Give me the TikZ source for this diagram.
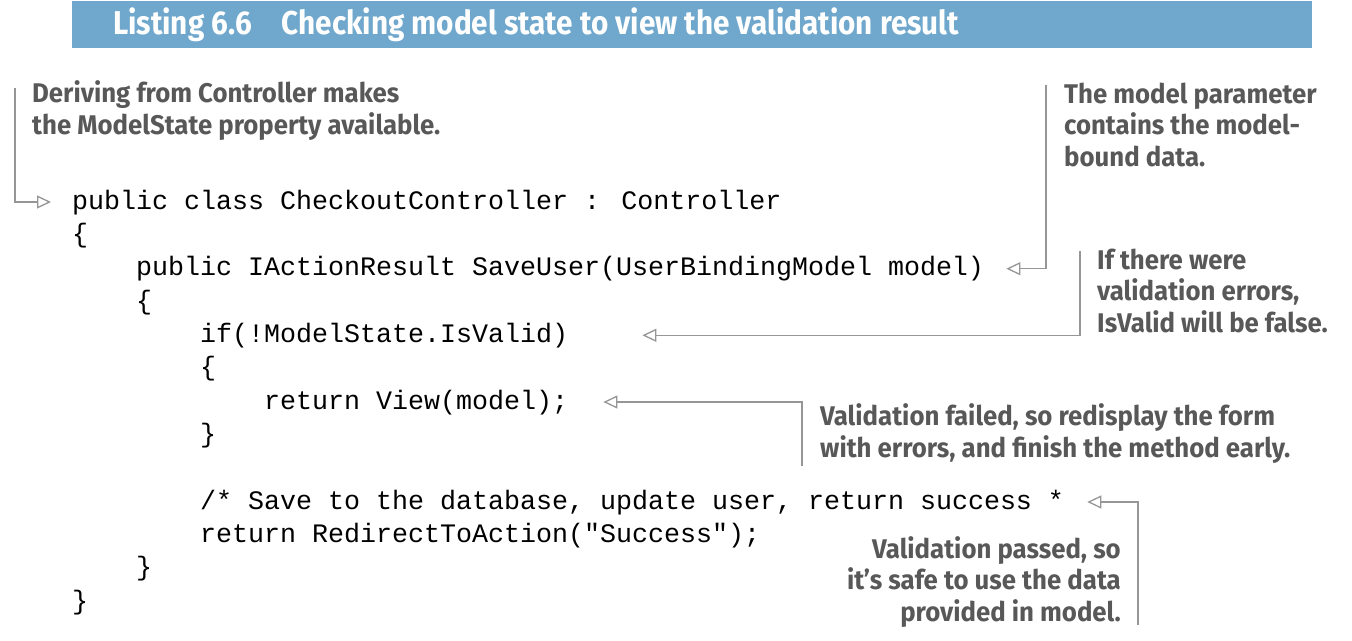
\documentclass[tikz,border=0pt]{standalone}
\usepackage{fontspec}
\usetikzlibrary{arrows.meta}
\newfontfamily\annotfont[FakeStretch=0.955]{Fira Sans}
\newfontfamily\headfont[FakeStretch=0.9]{Fira Sans}
\newfontfamily\codefont[Ligatures=TeXOff]{Liberation Mono}
\definecolor{headblue}{RGB}{111,168,204}
\definecolor{annotgray}{RGB}{88,88,88}
\definecolor{linegray}{RGB}{150,150,150}
\begin{document}
\begin{tikzpicture}[x=1pt,y=-1pt,
  code/.style={anchor=base west,inner sep=0pt,font=\codefont\fontsize{26.66}{33}\selectfont,text height=20pt,text depth=6pt},
  annot/.style={anchor=base west,inner sep=0pt,align=left,font=\annotfont\bfseries\fontsize{27}{31.5}\selectfont,text=annotgray},
  conn/.style={draw=linegray,line width=1.3pt,-{Triangle[open,length=14pt,width=13pt,fill=white]}},
]
\useasboundingbox (0,0) rectangle (1352,640);
\fill[headblue] (72,1) rectangle (1312,47.5);
\node[anchor=base west,inner sep=0pt,text=white,font=\headfont\bfseries\fontsize{33}{35}\selectfont] (head) at (113,34) {Listing 6.6\hspace{30pt}Checking model state to view the validation result};

% code
\node[code] (c1) at (72,209) {public class CheckoutController : Controller};
\node[code] (c2) at (72,242.3) {\{};
\node[code] (c3) at (136,275.7) {public IActionResult SaveUser(UserBindingModel model)};
\node[code] (c4) at (136,309) {\{};
\node[code] (c5) at (200,342.3) {if(!ModelState.IsValid)};
\node[code] (c6) at (200,375.7) {\{};
\node[code] (c7) at (264,409) {return View(model);};
\node[code] (c8) at (200,442.3) {\}};
\node[code] (c10) at (200,509) {/* Save to the database, update user, return success *};
\node[code] (c11) at (200,542.3) {return RedirectToAction("Success");};
\node[code] (c12) at (136,575.7) {\}};
\node[code] (c13) at (72,609) {\}};

% annotations (base anchor = last line's baseline)
\node[annot] (t1) at (32,134) {Deriving from Controller makes\\the ModelState property available.};
\node[annot] (t2) at (1064,166) {The model parameter\\contains the model-\\bound data.};
\node[annot] (t3) at (1097,332) {If there were\\validation errors,\\IsValid will be false.};
\node[annot] (t4) at (820,457) {Validation failed, so redisplay the form\\with errors, and finish the method early.};
\node[annot,anchor=base east,align=right] (t5) at (1121,621) {Validation passed, so\\it’s safe to use the data\\provided in model.};

% connectors
\coordinate (e1) at (15,88);
\coordinate (e2) at (1046,85);
\coordinate (e3) at (1080,251);
\coordinate (e4) at (802,466);
\coordinate (e5) at (1138,625);
\draw[conn] (e1) |- ([xshift=-21pt]c1.west);
\draw[conn] (e2) |- ([xshift=22pt]c3.east);
\draw[conn] (e3) |- ([xshift=74pt]c5.east);
\draw[conn] (e4) |- ([xshift=35pt]c7.east);
\draw[conn] (e5) |- ([xshift=23pt]c10.east);
\end{tikzpicture}
\end{document}
